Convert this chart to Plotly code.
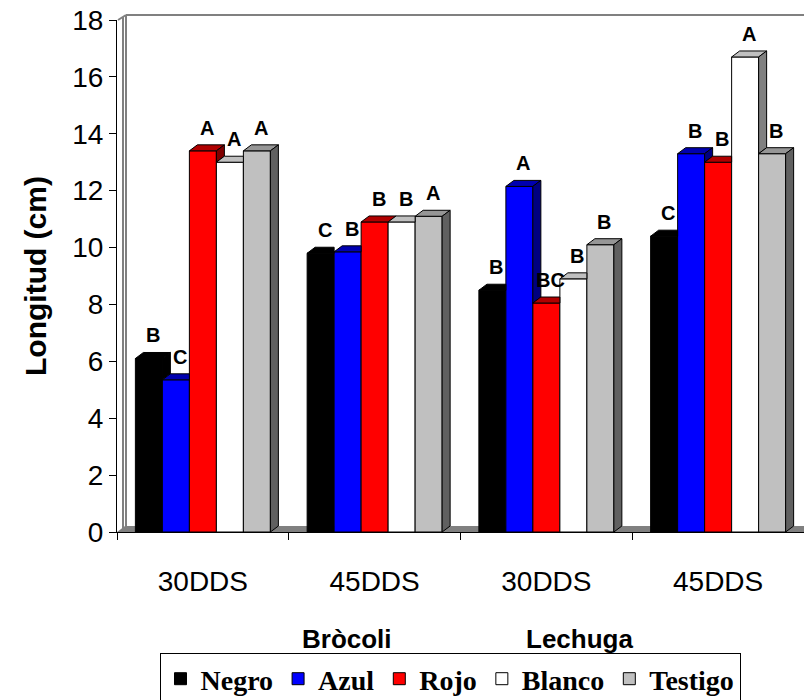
import plotly.graph_objects as go

# ---- data -------------------------------------------------------------
groups = ["30DDS", "45DDS", "30DDS", "45DDS"]
crops = ["Bròcoli", "Lechuga"]
series = ["Negro", "Azul", "Rojo", "Blanco", "Testigo"]

negro = [6.1, 9.8, 8.5, 10.4]
azul = [5.35, 9.85, 12.15, 13.3]
rojo = [13.4, 10.9, 8.05, 13.0]
blanco = [13.0, 10.9, 8.9, 16.7]
testigo = [13.4, 11.1, 10.1, 13.3]

let_negro = ["B", "C", "B", "C"]
let_azul = ["C", "B", "A", "B"]
let_rojo = ["A", "B", "BC", "B"]
let_blanco = ["A", "B", "B", "A"]
let_testigo = ["A", "A", "B", "B"]

y_ticks = [0, 2, 4, 6, 8, 10, 12, 14, 16, 18]

values = [negro, azul, rojo, blanco, testigo]
letters = [let_negro, let_azul, let_rojo, let_blanco, let_testigo]

# ---- styling ----------------------------------------------------------
front_col = ["#000000", "#0000FF", "#FF0000", "#FFFFFF", "#C0C0C0"]
top_col = ["#000000", "#0000B0", "#B00000", "#C0C0C0", "#969696"]
side_col = ["#000000", "#000080", "#800000", "#808080", "#606060"]

W, H = 804, 700
ML, MR, MT, MB = 117, 0, 20, 168
PW, PH = W - ML - MR, H - MT - MB
XR = [-0.5, len(groups) - 0.5]
YR = [0, 18]
ux = PW / (XR[1] - XR[0])          # pixels per category
uy = PH / (YR[1] - YR[0])          # pixels per cm
DXP, DYP = 8, 6                    # 3-D depth offset in pixels
dx, dy = DXP / ux, DYP / uy
BW = 27 / ux                       # bar width in category units

SANS = "Liberation Sans, Arial, sans-serif"
SERIF = "Liberation Serif, Times New Roman, serif"


def px_x(p):
    return (p - ML) / PW


def px_y(p):
    return (H - MB - p) / PH


fig = go.Figure()
shapes = []
annotations = []

# floor slab
shapes.append(dict(type="path", xref="x", yref="y", layer="below",
                   path=f"M {XR[0]},0 L {XR[0]+dx},{dy} L {XR[1]},{dy} L {XR[1]},0 Z",
                   fillcolor="#808080", line=dict(width=0)))

# back / side walls
wall = dict(color="#808080", width=2)
shapes += [
    dict(type="line", xref="paper", yref="paper", layer="below",
         x0=px_x(123), x1=px_x(123), y0=px_y(529), y1=px_y(17), line=wall),
    dict(type="line", xref="paper", yref="paper", layer="below",
         x0=px_x(126), x1=px_x(126), y0=px_y(526), y1=px_y(15), line=wall),
    dict(type="line", xref="paper", yref="paper", layer="below",
         x0=px_x(126), x1=1, y0=px_y(15), y1=px_y(15), line=wall),
    dict(type="line", xref="paper", yref="paper", layer="below",
         x0=px_x(118), x1=px_x(126), y0=px_y(20), y1=px_y(15), line=wall),
]


def bar_left(i, k):
    return i - 2.5 * BW + k * BW


# front faces as bar traces
for k, name in enumerate(series):
    xs = [bar_left(i, k) + BW / 2 for i in range(len(groups))]
    fig.add_trace(go.Bar(
        x=xs, y=values[k], width=BW, name=name,
        marker=dict(color=front_col[k], line=dict(color="#000000", width=1)),
        hoverinfo="skip",
    ))

# top and side faces, drawn left to right so nearer faces overlap
for i in range(len(groups)):
    for k in range(len(series)):
        v = values[k][i]
        x0 = bar_left(i, k)
        x1 = x0 + BW
        nxt = values[k + 1][i] if k < len(series) - 1 else 0
        right = x1 if (k < len(series) - 1 and nxt > v) else x1 + dx
        shapes.append(dict(
            type="path", xref="x", yref="y", layer="above",
            path=f"M {x0},{v} L {x0+dx},{v+dy} L {right},{v+dy} L {x1},{v} Z",
            fillcolor=top_col[k], line=dict(color="#000000", width=1)))
        if v > nxt:
            shapes.append(dict(
                type="path", xref="x", yref="y", layer="above",
                path=f"M {x1},{nxt} L {x1+dx},{nxt+dy} L {x1+dx},{v+dy} L {x1},{v} Z",
                fillcolor=side_col[k], line=dict(color="#000000", width=1)))
        annotations.append(dict(
            x=x0 + BW / 2 + dx / 2, y=v, xref="x", yref="y",
            text=letters[k][i], showarrow=False, yanchor="middle", yshift=23,
            font=dict(family=SANS, size=20, color="#000000", weight="bold")))

# axis title and crop names
annotations.append(dict(
    x=px_x(35), y=0.5, xref="paper", yref="paper", text="<b>Longitud (cm)</b>",
    textangle=-90, showarrow=False, xanchor="center", yanchor="middle",
    font=dict(family=SANS, size=30, color="#000000")))
for name, cx in zip(crops, [347, 579]):
    annotations.append(dict(
        x=px_x(cx), y=px_y(639), xref="paper", yref="paper", text=f"<b>{name}</b>",
        showarrow=False, xanchor="center", yanchor="middle",
        font=dict(family=SANS, size=26, color="#000000")))

fig.update_layout(
    width=W, height=H,
    margin=dict(l=ML, r=MR, t=MT, b=MB),
    paper_bgcolor="#FFFFFF", plot_bgcolor="#FFFFFF",
    barmode="overlay",
    showlegend=True,
    legend=dict(
        orientation="h", xref="container", yref="container",
        x=450 / W, y=(H - 653) / H, xanchor="center", yanchor="top",
        bordercolor="#000000", borderwidth=1, bgcolor="#FFFFFF",
        font=dict(family=SERIF, size=28, color="#000000", weight="bold"),
        itemwidth=30, traceorder="normal",
    ),
    xaxis=dict(
        range=XR, tickmode="array", tickvals=list(range(len(groups))), ticktext=groups,
        ticks="", showline=True, linecolor="#000000", linewidth=1,
        showgrid=False, zeroline=False, ticklabelstandoff=24,
        tickfont=dict(family=SANS, size=28, color="#000000"),
        minor=dict(tickmode="array", tickvals=[g - 0.5 for g in range(len(groups) + 1)],
                   ticks="outside", ticklen=7, tickcolor="#000000", tickwidth=1,
                   showgrid=False),
    ),
    yaxis=dict(
        range=YR, tickmode="array", tickvals=y_ticks,
        ticks="outside", ticklen=7, tickcolor="#000000", tickwidth=1,
        showline=True, linecolor="#000000", linewidth=1,
        showgrid=False, zeroline=False,
        tickfont=dict(family=SANS, size=28, color="#000000"),
    ),
    shapes=shapes,
    annotations=annotations,
)

fig.write_html("out.html")
